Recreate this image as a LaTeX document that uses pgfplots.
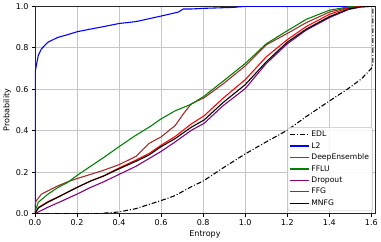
\documentclass[border=0pt]{standalone}
\usepackage{fontspec}
\setmainfont{DejaVu Sans}
\usepackage{pgfplots}
\pgfplotsset{compat=1.18}
\definecolor{brownc}{HTML}{A52A2A}
\definecolor{greenc}{HTML}{008000}
\definecolor{purplec}{HTML}{800080}
\begin{document}
\begin{tikzpicture}
\begin{axis}[
  at={(0,0)}, anchor=south west,
  scale only axis, width=346bp, height=211bp,
  xmin=0, xmax=1.617, ymin=0, ymax=1,
  xtick={0,0.2,0.4,0.6,0.8,1.0,1.2,1.4,1.6},
  ytick={0,0.2,0.4,0.6,0.8,1.0},
  xticklabels={0.0,0.2,0.4,0.6,0.8,1.0,1.2,1.4,1.6},
  yticklabels={0.0,0.2,0.4,0.6,0.8,1.0},
  tick align=outside, tick pos=left,
  major tick length=3bp,
  every tick/.style={black, line width=0.6bp},
  grid=major, grid style={gray!45, line width=0.6bp},
  axis line style={black!85, line width=0.7bp},
  tick label style={font=\fontsize{8.2}{10}\selectfont},
  label style={font=\fontsize{8.2}{10}\selectfont},
  /pgf/number format/assume math mode=true,
  xlabel={Entropy}, ylabel={Probability},
  xlabel style={yshift=2.5bp},
  ylabel style={yshift=-2bp},
  legend cell align=left,
  legend style={at={(rel axis cs:0.994,0.014)}, anchor=south east,
    draw=gray!50, rounded corners=1.5bp, fill=white, fill opacity=0.85, text opacity=1,
    font=\fontsize{7.8}{9}\selectfont, row sep=0.4bp, inner sep=1.8bp},
  legend image post style={line width=1.2bp},
  legend image code/.code={\draw[#1] (0bp,0bp) -- (19bp,0bp);},
  every axis plot/.append style={line width=1.1bp, line join=round},
]
\addplot[black, dash pattern=on 5bp off 2bp on 1bp off 2bp] coordinates {
(0,0) (0.3,0) (0.4,0.008) (0.48,0.024) (0.6,0.063) (0.667,0.087) (0.746,0.131) (0.8,0.157) (0.894,0.22) (1.0,0.288) (1.1,0.346) (1.2,0.402) (1.29,0.468) (1.4,0.543) (1.49,0.603) (1.553,0.65) (1.6,0.70) (1.607,0.724) (1.607,1.0) (1.62,1.0)};
\addlegendentry{EDL}
\addplot[blue] coordinates {
(0,0) (0,0.68) (0.016,0.764) (0.031,0.795) (0.062,0.827) (0.109,0.85) (0.155,0.863) (0.2,0.877) (0.264,0.89) (0.326,0.902) (0.4,0.917) (0.48,0.926) (0.6,0.953) (0.682,0.972) (0.705,0.987) (0.744,0.987) (0.8,0.99) (0.95,0.995) (1.0,1.0) (1.62,1.0)};
\addlegendentry{L2}
\addplot[brownc] coordinates {
(0,0) (0,0.04) (0.005,0.06) (0.016,0.075) (0.031,0.094) (0.062,0.11) (0.109,0.134) (0.155,0.153) (0.2,0.169) (0.264,0.189) (0.326,0.209) (0.4,0.236) (0.48,0.276) (0.543,0.339) (0.6,0.37) (0.667,0.425) (0.705,0.48) (0.744,0.53) (0.805,0.559) (0.894,0.625) (1.0,0.712) (1.1,0.814) (1.2,0.869) (1.29,0.921) (1.4,0.972) (1.49,0.995) (1.55,1.0) (1.62,1.0)};
\addlegendentry{DeepEnsemble}
\addplot[greenc] coordinates {
(0,0) (0,0.01) (0.016,0.055) (0.062,0.094) (0.109,0.126) (0.155,0.15) (0.2,0.184) (0.264,0.228) (0.326,0.27) (0.4,0.323) (0.48,0.378) (0.543,0.417) (0.6,0.457) (0.667,0.496) (0.744,0.528) (0.805,0.567) (0.894,0.638) (1.0,0.724) (1.1,0.819) (1.2,0.882) (1.29,0.937) (1.4,0.981) (1.49,0.997) (1.55,1.0) (1.62,1.0)};
\addlegendentry{FFLU}
\addplot[purplec] coordinates {
(0,0) (0.016,0.008) (0.062,0.031) (0.109,0.052) (0.2,0.094) (0.264,0.126) (0.326,0.153) (0.4,0.189) (0.48,0.228) (0.6,0.3) (0.667,0.346) (0.744,0.402) (0.805,0.436) (0.894,0.52) (1.0,0.603) (1.1,0.724) (1.2,0.819) (1.29,0.885) (1.4,0.945) (1.49,0.984) (1.55,0.997) (1.6,1.0) (1.62,1.0)};
\addlegendentry{Dropout}
\addplot[red] coordinates {
(0,0) (0.016,0.03) (0.062,0.058) (0.109,0.08) (0.2,0.127) (0.264,0.157) (0.326,0.182) (0.4,0.22) (0.48,0.258) (0.543,0.29) (0.6,0.33) (0.667,0.372) (0.744,0.433) (0.805,0.472) (0.894,0.556) (1.0,0.646) (1.1,0.756) (1.2,0.839) (1.29,0.902) (1.4,0.961) (1.49,0.992) (1.55,1.0) (1.62,1.0)};
\addlegendentry{FFG}
\addplot[black] coordinates {
(0,0) (0.016,0.027) (0.062,0.055) (0.109,0.079) (0.2,0.126) (0.264,0.157) (0.326,0.181) (0.4,0.216) (0.48,0.252) (0.543,0.283) (0.6,0.323) (0.667,0.362) (0.744,0.417) (0.805,0.452) (0.894,0.535) (1.0,0.622) (1.1,0.732) (1.2,0.827) (1.29,0.89) (1.4,0.95) (1.49,0.987) (1.55,0.997) (1.6,1.0) (1.62,1.0)};
\addlegendentry{MNFG}
\end{axis}
\path[use as bounding box] (-30bp,-26bp) rectangle (351bp,215bp);
\end{tikzpicture}
\end{document}
